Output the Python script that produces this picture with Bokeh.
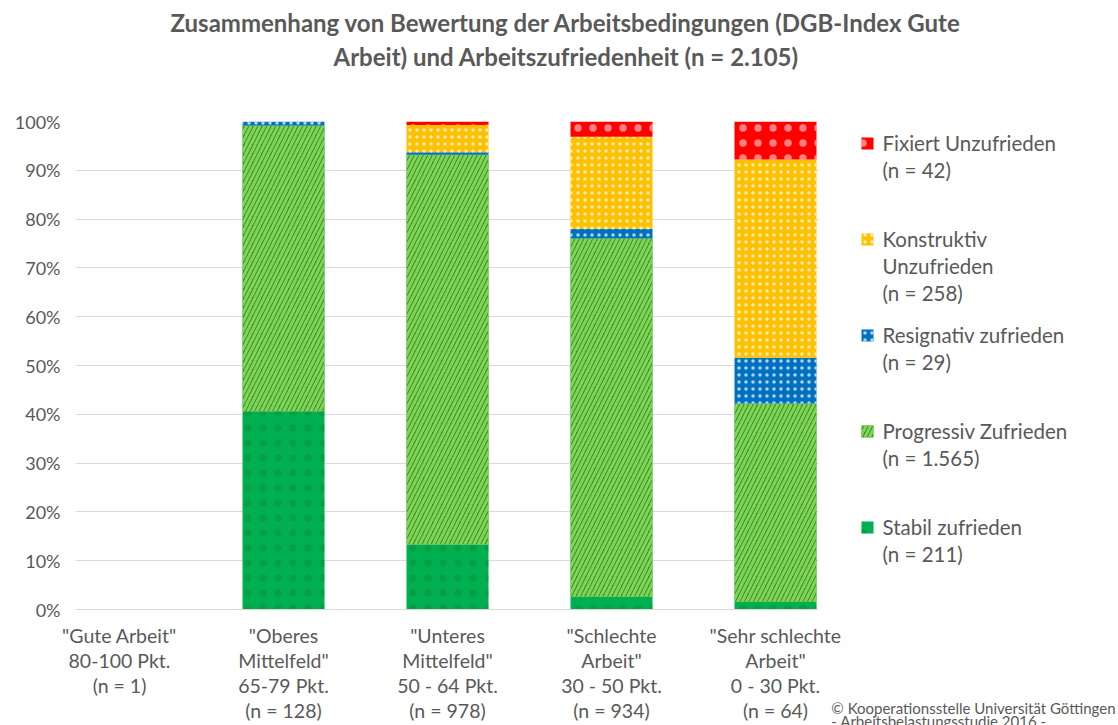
from bokeh.plotting import figure
from bokeh.models import Range1d, FixedTicker, ColumnDataSource, Title, BoxAnnotation
from bokeh.core.properties import value
from bokeh.embed import file_html
from bokeh.resources import INLINE

# ---------------- data ----------------
categories = [
    '"Gute Arbeit"\n80-100 Pkt.\n(n = 1)',
    '"Oberes\nMittelfeld"\n65-79 Pkt.\n(n = 128)',
    '"Unteres\nMittelfeld"\n50 - 64 Pkt.\n(n = 978)',
    '"Schlechte\nArbeit"\n30 - 50 Pkt.\n(n = 934)',
    '"Sehr schlechte\nArbeit"\n0 - 30 Pkt.\n(n = 64)',
]
stabil = [0, 40.6, 13.3, 2.6, 1.6]
progressiv = [0, 58.6, 79.9, 73.5, 40.6]
resignativ = [0, 0.8, 0.5, 1.9, 9.4]
konstruktiv = [0, 0.0, 5.6, 18.9, 40.6]
fixiert = [0, 0.0, 0.7, 3.1, 7.8]

series_names = ["Stabil zufrieden", "Progressiv Zufrieden", "Resignativ zufrieden",
                "Konstruktiv\nUnzufrieden", "Fixiert Unzufrieden"]
series_n = ["(n = 211)", "(n = 1.565)", "(n = 29)", "(n = 258)", "(n = 42)"]
y_ticks = list(range(0, 101, 10))

title_lines = ["Zusammenhang von Bewertung der Arbeitsbedingungen (DGB-Index Gute",
               "Arbeit) und Arbeitszufriedenheit (n = 2.105)"]
copyright_text = ("\u00a9 Kooperationsstelle Universit\u00e4t G\u00f6ttingen\n"
                  " - Arbeitsbelastungsstudie 2016 -\n ")

# ---------------- styles / layout ----------------
FONT = "Lato"
GRAY = "#595959"
styles = [
    dict(fill_color="#00B050", hatch_pattern=".", hatch_color="#0B7A2A", hatch_scale=15, hatch_weight=1, hatch_alpha=0.3),
    dict(fill_color="#1E9E36", hatch_pattern="/", hatch_color="#8AD052", hatch_scale=9, hatch_weight=3, hatch_alpha=1.0),
    dict(fill_color="#0070C0", hatch_pattern=".", hatch_color="#FFFFFF", hatch_scale=7, hatch_weight=1, hatch_alpha=0.7),
    dict(fill_color="#FFC000", hatch_pattern=".", hatch_color="#FFFFFF", hatch_scale=7, hatch_weight=1, hatch_alpha=0.7),
    dict(fill_color="#FF0000", hatch_pattern=".", hatch_color="#FFFFFF", hatch_scale=15, hatch_weight=1, hatch_alpha=0.5),
]

W, H = 1118, 725
FRAME_L, FRAME_R, FRAME_T, FRAME_B = 75, 1118, 121, 610
CAT0_PX, CAT_STEP = 119, 164          # pixel centre of first category, category pitch
PX_PER_UNIT = (FRAME_B - FRAME_T) / 100.0
x_lo = (FRAME_L - CAT0_PX) / CAT_STEP
x_hi = (FRAME_R - CAT0_PX) / CAT_STEP
bars_end = (818 - CAT0_PX) / CAT_STEP  # end of the category area (grid / axis end)


def px_x(px):
    return (px - CAT0_PX) / CAT_STEP


def px_y(py):
    return (FRAME_B - py) / PX_PER_UNIT


xs = list(range(len(categories)))
series = [stabil, progressiv, resignativ, konstruktiv, fixiert]
data = dict(x=xs)
cum = [0.0] * len(xs)
for i, s in enumerate(series):
    data[f"b{i}"] = list(cum)
    cum = [c + v for c, v in zip(cum, s)]
    data[f"t{i}"] = list(cum)
src = ColumnDataSource(data)

p = figure(width=W, height=H, output_backend="svg", toolbar_location=None,
           x_range=Range1d(x_lo, x_hi), y_range=Range1d(0, 100),
           min_border_left=FRAME_L, min_border_right=W - FRAME_R, min_border_top=FRAME_T,
           min_border_bottom=H - FRAME_B,
           outline_line_color=None, background_fill_color="white", border_fill_color="white")
p.title.visible = False

# grid only across the category area: white mask to the right of it
p.add_layout(BoxAnnotation(left=bars_end, fill_color="white", fill_alpha=1.0,
                           line_color=None, level="underlay"))

for i, st in enumerate(styles):
    p.vbar(x="x", width=0.5, bottom=f"b{i}", top=f"t{i}", source=src, line_color=None, **st)

# titles (first added = closest to the frame)
p.add_layout(Title(text=" ", text_font_size="10px", standoff=35), "above")
p.add_layout(Title(text=title_lines[1], align="left", offset=258, vertical_align="middle",
                   text_font=FONT, text_font_size="24px", text_font_style="bold",
                   text_color=GRAY, standoff=3), "above")
p.add_layout(Title(text=title_lines[0], align="left", offset=95, vertical_align="middle",
                   text_font=FONT, text_font_size="24px", text_font_style="bold",
                   text_color=GRAY, standoff=3), "above")

# axes
p.yaxis.ticker = FixedTicker(ticks=y_ticks)
p.yaxis.major_label_overrides = {t: f"{t}%" for t in y_ticks}
p.yaxis.axis_line_color = None
p.yaxis.major_tick_line_color = None
p.yaxis.major_tick_out = 0
p.yaxis.minor_tick_line_color = None
p.yaxis.major_label_text_font = FONT
p.yaxis.major_label_text_font_size = "18px"
p.yaxis.major_label_text_color = GRAY
p.yaxis.major_label_standoff = 15

p.xaxis.ticker = FixedTicker(ticks=xs)
p.xaxis.bounds = (x_lo, bars_end)
p.xaxis.major_label_overrides = {x: c for x, c in zip(xs, categories)}
p.xaxis.axis_line_color = "#D9D9D9"
p.xaxis.major_tick_line_color = None
p.xaxis.major_tick_out = 0
p.xaxis.minor_tick_line_color = None
p.xaxis.major_label_text_font = FONT
p.xaxis.major_label_text_font_size = "19.5px"
p.xaxis.major_label_text_color = GRAY
p.xaxis.major_label_text_line_height = 1.10
p.xaxis.major_label_standoff = 14

p.xgrid.visible = False
p.ygrid.grid_line_color = "#D9D9D9"
p.ygrid.grid_line_width = 1

# copyright note (zero-size title below the axis, pulled up into the label band)
p.add_layout(Title(text=copyright_text, align="right", offset=3, vertical_align="top",
                   text_font=FONT, text_font_size="15px", text_font_style="normal",
                   text_color=GRAY, text_line_height=0.75, standoff=-54), "below")

# legend (top entry = last series)
SW_PX, TEXT_PX, LEG_TOP_PX, ENTRY_PX, LINE_PX = 867, 882, 143, 96.2, 27
order = [4, 3, 2, 1, 0]
tx, ty, tt = [], [], []
for r, idx in enumerate(order):
    yc = LEG_TOP_PX + r * ENTRY_PX
    st = styles[idx]
    p.rect(x=[px_x(SW_PX)], y=[px_y(yc)], width=12, height=12, width_units="screen",
           height_units="screen", line_color=None, **st)
    lines = series_names[idx].split("\n") + [series_n[idx]]
    for k, ln in enumerate(lines):
        tx.append(px_x(TEXT_PX))
        ty.append(px_y(yc + k * LINE_PX))
        tt.append(ln)
p.text(x=tx, y=ty, text=tt, text_font=value(FONT), text_font_size=value("20.5px"),
       text_color=GRAY, text_baseline="middle", text_align="left")

open("out.html", "w").write(file_html(p, INLINE))
